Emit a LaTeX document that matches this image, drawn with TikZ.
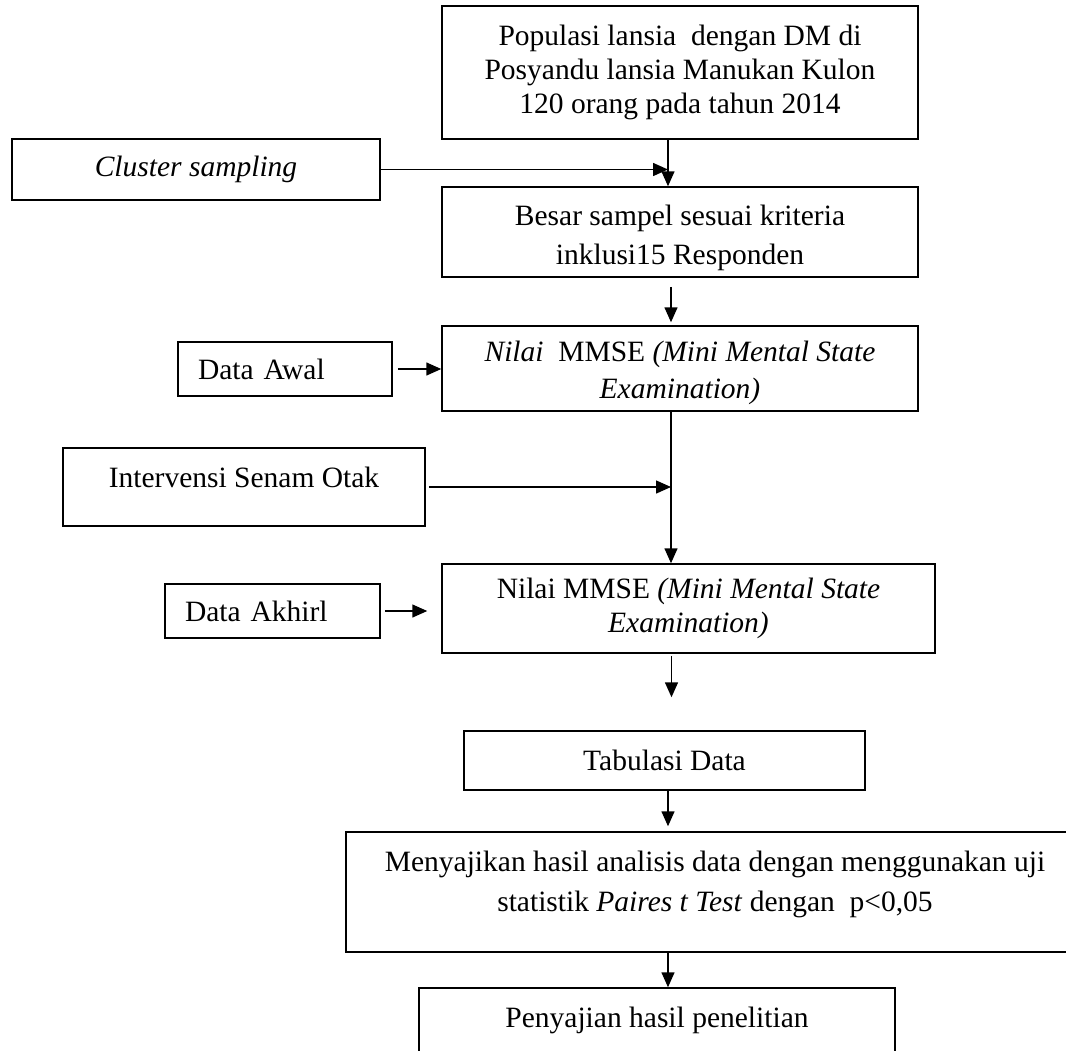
\documentclass[tikz,border=0pt]{standalone}
\usepackage{fontspec}
\setmainfont{Liberation Serif}
\usetikzlibrary{arrows.meta}

\begin{document}
\begin{tikzpicture}[x=1pt, y=-1pt,
  every node/.style={font=\fontsize{29.5}{34}\selectfont},
  box/.style={draw, line width=1.5pt, align=center, inner sep=0pt},
  sidebox/.style={box, align=left, text width=#1, inner xsep=20pt},
  arr/.style={-{Triangle[length=15pt,width=13pt]}, line width=1.5pt}]
\useasboundingbox (0,0) rectangle (1066,1050);

% === Main column ===
\node[box, minimum width=476, minimum height=133] (pop) at (680,72.5)
  {Populasi lansia\ \ dengan DM di\\ Posyandu lansia Manukan Kulon\\ 120 orang pada tahun 2014};
\node[box, minimum width=476, minimum height=90] (besar) at (680,232)
  {\rule{0pt}{32pt}Besar sampel sesuai kriteria\\[5pt] inklusi15 Responden};
\node[box, minimum width=476, minimum height=85] (nilai1) at (680,368.5)
  {\rule{0pt}{30pt}\textit{Nilai}\ \ MMSE \textit{(Mini Mental State}\\[3pt] \textit{Examination)}};
\node[box, minimum width=493, minimum height=89] (nilai2) at (688.5,608.5)
  {Nilai MMSE \textit{(Mini Mental State}\\ \textit{Examination)}};
\node[box, minimum width=401, minimum height=59] (tab) at (664.5,760.5) {Tabulasi Data};
\node[box, minimum width=738, minimum height=120, text depth=21pt] (saji) at (715,892)
  {Menyajikan hasil analisis data dengan menggunakan uji\\[6pt]
   statistik \textit{Paires t Test} dengan\ \ p<0,05};
\node[box, minimum width=476, minimum height=66, text depth=7pt] (hasil) at (657,1021)
  {Penyajian hasil penelitian};

% === Side boxes ===
\node[box, minimum width=368, minimum height=61] (cluster) at (196,169.5) {\textit{Cluster sampling}};
\node[sidebox=174pt, minimum height=54] (awal) at (285,369) {Data Awal};
\node[box, minimum width=362, minimum height=78, text depth=19pt] (interv) at (244,487)
  {Intervensi Senam Otak};
\node[sidebox=175pt, minimum height=54] (akhir) at (272.5,611) {Data Akhirl};

% === Connectors ===
\coordinate (popout) at ([xshift=-12pt]pop.south);
\draw[arr] (popout) -- (popout |- besar.north);
\draw[arr] (cluster.east) -- (popout |- cluster.east);

\coordinate (besarout) at ([xshift=-9pt]besar.south);
\draw[arr, shorten <=9pt, shorten >=3pt] (besarout) -- (besarout |- nilai1.north);
\draw[arr, shorten <=5pt] (awal.east) -- (awal.east -| nilai1.west);

\coordinate (n1out) at ([xshift=-9pt]nilai1.south);
\draw[arr] (n1out) -- (n1out |- nilai2.north);
\draw[arr, shorten <=3pt] (interv.east) -- (n1out |- interv.east);
\draw[arr, shorten <=4pt, shorten >=14pt] (akhir.east) -- (akhir.east -| nilai2.west);

\coordinate (n2out) at ([xshift=-17pt]nilai2.south);
\draw[arr, shorten <=2pt, shorten >=33pt] (n2out) -- (n2out |- tab.north);
\coordinate (tabout) at ([xshift=3.5pt]tab.south);
\draw[arr, shorten >=5pt] (tabout) -- (tabout |- saji.north);
\coordinate (sajiout) at ([xshift=-47pt]saji.south);
\draw[arr] (sajiout) -- (sajiout |- hasil.north);

\end{tikzpicture}
\end{document}
